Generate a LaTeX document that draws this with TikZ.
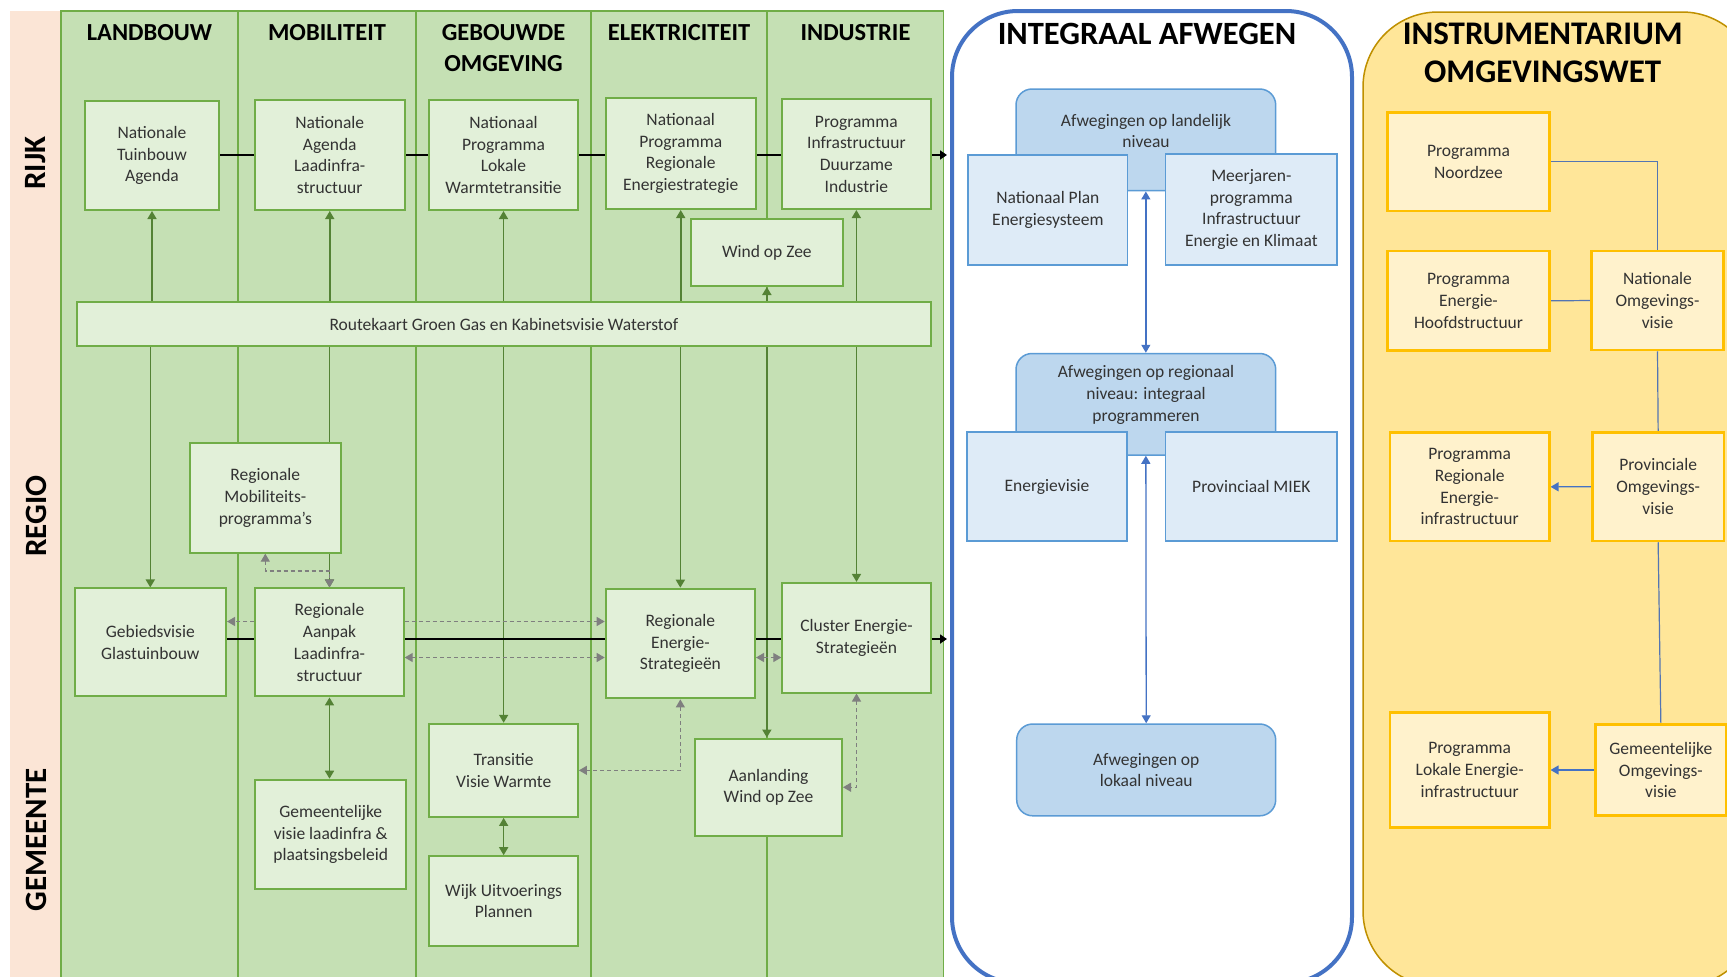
\documentclass[tikz,border=0pt]{standalone}
\usepackage{fontspec}
\setmainfont{Carlito}
\usetikzlibrary{arrows.meta}
\definecolor{pinkbg}{HTML}{FBE5D6}
\definecolor{greenbg}{HTML}{C5E0B4}
\definecolor{greenln}{HTML}{70AD47}
\definecolor{greenbox}{HTML}{E2F0D9}
\definecolor{greenarr}{HTML}{548235}
\definecolor{greyarr}{HTML}{7F7F7F}
\definecolor{bluefr}{HTML}{4472C4}
\definecolor{bluedark}{HTML}{BDD7EE}
\definecolor{bluelight}{HTML}{DEEBF7}
\definecolor{blueln}{HTML}{5B9BD5}
\definecolor{yelbg}{HTML}{FFE699}
\definecolor{yelln}{HTML}{BF9000}
\definecolor{yelbox}{HTML}{FFF2CC}
\definecolor{yelbd}{HTML}{FFC000}
\definecolor{txt}{HTML}{333333}
\pgfdeclarelayer{back}
\pgfdeclarelayer{mid}
\pgfsetlayers{back,mid,main}
\begin{document}
\begin{tikzpicture}[x=1pt,y=-1pt,
  every node/.style={font=\fontsize{17.5}{21.7}\selectfont, text=txt, align=center, inner sep=0pt},
  gbox/.style={draw=greenln, fill=greenbox, line width=2pt},
  bbox/.style={draw=blueln, fill=bluelight, line width=1.5pt},
  rbox/.style={draw=blueln, fill=bluedark, line width=1.5pt, rounded corners=16pt},
  ybox/.style={draw=yelbd, fill=yelbox, line width=2.5pt},
  hdr/.style={font=\fontsize{24.5}{31}\selectfont\bfseries, text=black},
  side/.style={font=\fontsize{31}{36}\selectfont\bfseries, text=black, rotate=90},
  garr/.style={draw=greenarr, line width=1.6pt, -{Triangle[length=8pt,width=9pt]}},
  gdbl/.style={draw=greenarr, line width=1.6pt, {Triangle[length=8pt,width=9pt]}-{Triangle[length=8pt,width=9pt]}},
  darr/.style={draw=greyarr, line width=1.2pt, dash pattern=on 4pt off 3pt, -{Triangle[length=8pt,width=9pt]}},
  ddbl/.style={draw=greyarr, line width=1.2pt, dash pattern=on 4pt off 3pt, {Triangle[length=8pt,width=9pt]}-{Triangle[length=8pt,width=9pt]}},
  blk/.style={draw=black, line width=2.5pt},
  blkarr/.style={draw=black, line width=2.5pt, -{Triangle[length=7pt,width=9pt]}},
  bdbl/.style={draw=bluefr, line width=1.3pt, {Triangle[length=8pt,width=9pt]}-{Triangle[length=8pt,width=9pt]}},
  yln/.style={draw=bluefr!75!gray, line width=1.2pt},
  yarr/.style={draw=bluefr, line width=1.2pt, -{Triangle[length=8pt,width=9pt]}},
]
\useasboundingbox (0,0) rectangle (1727,977);

\begin{pgfonlayer}{back}
  \fill[white] (0,0) rectangle (1727,977);
  \fill[pinkbg] (10,11) rectangle (61,980);
  \draw[greenln, fill=greenbg, line width=1.5pt] (61,11) rectangle (943.5,985);
  \foreach \xx in {238,416,591,767} \draw[greenln, line width=1.5pt] (\xx,11) -- (\xx,985);
  \draw[bluefr, line width=4pt, fill=white, rounded corners=66pt] (952,11) rectangle (1352,983);
  \draw[yelln, line width=1.5pt, fill=yelbg, rounded corners=75pt] (1363,12) rectangle (1757,986);
\end{pgfonlayer}

% side labels
\node[side] (lrijk) at (36,163) {RIJK};
\node[side] (lregio) at (36,516) {REGIO};
\node[side] (lgem) at (36,840) {GEMEENTE};

% headers
\node[hdr] (h1) at (149.5,33) {LANDBOUW};
\node[hdr] (h2) at (327,33) {MOBILITEIT};
\node[hdr] (h3) at (503.5,48.5) {GEBOUWDE\\OMGEVING};
\node[hdr] (h4) at (679,33) {ELEKTRICITEIT};
\node[hdr] (h5) at (855.5,33) {INDUSTRIE};
\node[hdr, font=\fontsize{32.5}{38}\selectfont\bfseries] (h6) at (1147,34) {INTEGRAAL AFWEGEN};
\node[hdr, font=\fontsize{33}{38.4}\selectfont\bfseries] (h7) at (1542.7,53) {INSTRUMENTARIUM\\OMGEVINGSWET};

% green boxes
\node[gbox, minimum width=134pt, minimum height=109pt] (tuin) at (152,155.5) {Nationale\\Tuinbouw\\Agenda};
\node[gbox, minimum width=149.5pt, minimum height=110pt] (nal) at (329.75,155) {Nationale\\Agenda\\Laadinfra-\\structuur};
\node[gbox, minimum width=149pt, minimum height=110pt] (nplw) at (503.5,155) {Nationaal\\Programma\\Lokale\\Warmtetransitie};
\node[gbox, minimum width=150pt, minimum height=111pt] (npres) at (680.7,153.5) {Nationaal\\Programma\\Regionale\\Energiestrategie};
\node[gbox, minimum width=148.7pt, minimum height=110pt] (pidi) at (856.35,154) {Programma\\Infrastructuur\\Duurzame\\Industrie};
\node[gbox, minimum width=151.7pt, minimum height=67pt] (woz) at (766.85,252.5) {Wind op Zee};
\node[gbox, minimum width=853.7pt, minimum height=44pt] (route) at (503.85,324) {Routekaart Groen Gas en Kabinetsvisie Waterstof};
\node[gbox, minimum width=150.6pt, minimum height=109.3pt] (rmp) at (265.3,498) {Regionale\\Mobiliteits-\\programma’s};
\node[gbox, minimum width=151.4pt, minimum height=108pt] (geb) at (150.3,642.45) {Gebiedsvisie\\Glastuinbouw};
\node[gbox, minimum width=148.4pt, minimum height=108pt] (ral) at (329.5,642.45) {Regionale\\Aanpak\\Laadinfra-\\structuur};
\node[gbox, minimum width=149.3pt, minimum height=109.7pt] (res) at (680.35,643.55) {Regionale\\Energie-\\Strategieën};
\node[gbox, minimum width=148.4pt, minimum height=109.6pt] (ces) at (856.5,637.7) {Cluster Energie-\\Strategieën};
\node[gbox, minimum width=151.4pt, minimum height=109.6pt] (gvl) at (330.7,834.5) {Gemeentelijke\\visie laadinfra \&\\plaatsingsbeleid};
\node[gbox, minimum width=148.5pt, minimum height=93.1pt] (tvw) at (503.65,770.35) {Transitie\\Visie Warmte};
\node[gbox, minimum width=148.5pt, minimum height=89.4pt] (wup) at (503.65,900.9) {Wijk Uitvoerings\\Plannen};
\node[gbox, minimum width=147pt, minimum height=97.5pt] (awz) at (768.5,787.25) {Aanlanding\\Wind op Zee};

% blue section
\node[rbox, minimum width=259.7pt, minimum height=101.7pt] (land) at (1145.85,139.85) {};
\node (landt) at (1146,131) {Afwegingen op landelijk\\niveau};
\node[bbox, minimum width=159.7pt, minimum height=110pt] (nps) at (1047.85,210) {Nationaal Plan\\Energiesysteem};
\node[bbox, minimum width=171.3pt, minimum height=111pt] (mpie) at (1251.35,209.5) {Meerjaren-\\programma\\Infrastructuur\\Energie en Klimaat};
\node[rbox, minimum width=259.7pt, minimum height=101.5pt] (reg) at (1145.85,404.25) {};
\node (regt) at (1146,395) {Afwegingen op regionaal\\niveau: integraal\\programmeren};
\node[bbox, minimum width=160pt, minimum height=109pt] (ev) at (1047,486.5) {Energievisie};
\node[bbox, minimum width=171.3pt, minimum height=109pt] (miek) at (1251.35,486.5) {Provinciaal MIEK};
\node[rbox, minimum width=259pt, minimum height=91.8pt] (lok) at (1146.2,769.9) {Afwegingen op\\lokaal niveau};

% yellow section
\node[ybox, minimum width=161.6pt, minimum height=98.3pt] (pn) at (1468.5,161.85) {Programma\\Noordzee};
\node[ybox, minimum width=161.6pt, minimum height=99.7pt] (peh) at (1468.5,300.85) {Programma\\Energie-\\Hoofdstructuur};
\node[ybox, minimum width=131.6pt, minimum height=99pt] (nov) at (1657.5,300.5) {Nationale\\Omgevings-\\visie};
\node[ybox, minimum width=159.3pt, minimum height=108.3pt] (prei) at (1469.65,486.85) {Programma\\Regionale\\Energie-\\infrastructuur};
\node[ybox, minimum width=131.7pt, minimum height=108.7pt] (pov) at (1658.15,486.65) {Provinciale\\Omgevings-\\visie};
\node[ybox, minimum width=159.3pt, minimum height=115.4pt] (plei) at (1469.65,770) {Programma\\Lokale Energie-\\infrastructuur};
\node[ybox, minimum width=130.3pt, minimum height=91.4pt] (gov) at (1660.85,770) {Gemeentelijke\\Omgevings-\\visie};

\coordinate (e1) at (947,155);
\coordinate (e2) at (947,639);

\begin{pgfonlayer}{mid}
  % green vertical arrows
  \draw[garr] (route.north -| tuin.south) -- (tuin.south);
  \draw[garr] (route.north -| nal.south) -- (nal.south);
  \draw[garr] (route.north -| nplw.south) -- (nplw.south);
  \draw[garr] (route.north -| npres.south) -- (npres.south);
  \draw[garr] (route.north -| pidi.south) -- (pidi.south);
  \draw[garr] (route.south -| geb.north) -- (geb.north);
  \draw[garr] (route.south -| ral.north) -- (ral.north);
  \draw[garr] (route.south -| tvw.north) -- (tvw.north);
  \draw[garr] (route.south -| res.north) -- (res.north);
  \draw[garr] (route.south -| ces.north) -- (ces.north);
  \draw[gdbl, line width=2.2pt] (woz.south) -- (woz.south |- awz.north);
  \draw[gdbl] (ral.south) -- (ral.south |- gvl.north);
  \draw[gdbl] (tvw.south) -- (wup.north);
  % black lines
  \draw[blk] (tuin.east |- 0,155) -- (nal.west |- 0,155);
  \draw[blk] (nal.east |- 0,155) -- (nplw.west |- 0,155);
  \draw[blk] (nplw.east |- 0,155) -- (npres.west |- 0,155);
  \draw[blk] (npres.east |- 0,155) -- (pidi.west |- 0,155);
  \draw[blkarr] (pidi.east |- 0,155) -- (e1);
  \draw[blk] (geb.east |- 0,639) -- (ral.west |- 0,639);
  \draw[blk] (ral.east |- 0,639) -- (res.west |- 0,639);
  \draw[blk] (res.east |- 0,639) -- (ces.west |- 0,639);
  \draw[blkarr] (ces.east |- 0,639) -- (e2);
  % grey dashed
  \draw[darr] (ral.west |- 0,621.5) -- (geb.east |- 0,621.5);
  \draw[darr] (ral.east |- 0,621.5) -- (res.west |- 0,621.5);
  \draw[ddbl] (ral.east |- 0,657.5) -- (res.west |- 0,657.5);
  \draw[ddbl] (res.east |- 0,657.5) -- (ces.west |- 0,657.5);
  \draw[ddbl] (rmp.south) -- (rmp.south |- 0,571) -- (ral.north |- 0,571) -- (ral.north);
  \draw[ddbl] (res.south) |- (tvw.east);
  \draw[ddbl] (ces.south) |- (awz.east);
  % blue
  \draw[bdbl] (land.south) -- (reg.north);
  \draw[bdbl] (reg.south) -- (lok.north);
  % yellow section lines
  \draw[yln] (pn.east) -| (nov.north);
  \draw[yln] (peh.east) -- (nov.west);
  \draw[yln] (nov.south) -- (pov.north);
  \draw[yarr] (pov.west) -- (prei.east);
  \draw[yln] (pov.south) -- (gov.north);
  \draw[yarr] (gov.west) -- (plei.east);
\end{pgfonlayer}
\end{tikzpicture}
\end{document}
